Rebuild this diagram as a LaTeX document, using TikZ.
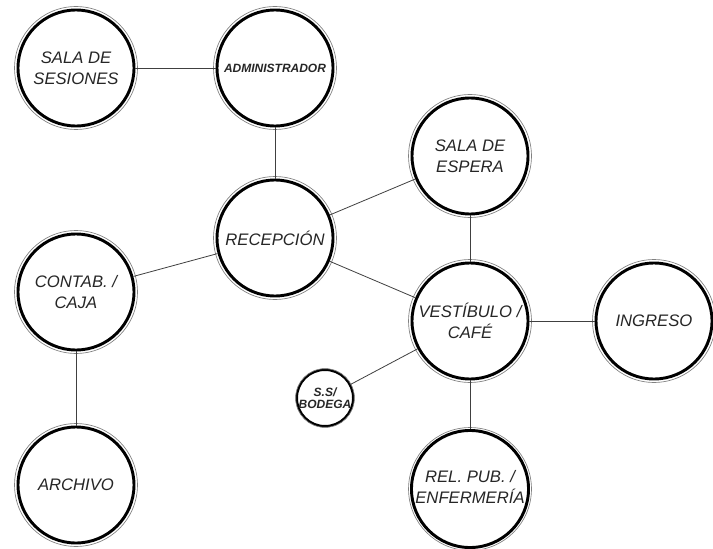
\documentclass[tikz,border=0pt]{standalone}
\usepackage{fontspec}
\setmainfont{Liberation Sans}
\begin{document}
\begin{tikzpicture}[x=0.75pt,y=-0.75pt,
  bubble/.style={circle, draw=black, line width=2.2pt, minimum size=87pt, inner sep=0pt,
    align=center, text=black!85, font=\fontsize{12.5}{15.75}\selectfont\itshape},
  smallbubble/.style={bubble, minimum size=40.5pt, line width=1.8pt,
    font=\fontsize{9}{9}\selectfont\bfseries\itshape},
  ring/.style={draw=black!50, line width=0.5pt},
  link/.style={draw=black!75, line width=0.6pt}]
\useasboundingbox[fill=white] (0,0) rectangle (713,549);

\node[bubble] (ses) at (76,68) {SALA DE\\SESIONES};
\node[bubble, font=\fontsize{9}{10}\selectfont\bfseries\itshape] (adm) at (275,68) {ADMINISTRADOR};
\node[bubble] (rec) at (275,238) {RECEPCIÓN};
\node[bubble] (esp) at (470,156) {SALA DE\\ESPERA};
\node[bubble] (con) at (76,292) {CONTAB. /\\CAJA};
\node[bubble] (ves) at (470,321) {VESTÍBULO /\\CAFÉ};
\node[bubble] (ing) at (654,321) {INGRESO};
\node[smallbubble] (ss) at (325,398) {S.S/\\BODEGA};
\node[bubble] (arc) at (76,485) {ARCHIVO};
\node[bubble] (rel) at (470,489) {\raisebox{7pt}{\begin{tabular}{@{}c@{}}REL. PUB. /\\ENFERMERÍA\end{tabular}}};

\foreach \n in {ses,adm,rec,esp,con,ves,ing,arc,rel}
  \draw[ring] (\n.center) circle[radius=46.1pt];
\draw[ring] (ss.center) circle[radius=22pt];

\draw[link] (ses) -- (adm);
\draw[link] (adm) -- (rec);
\draw[link] (rec) -- (esp);
\draw[link] (rec) -- (con);
\draw[link] (rec) -- (ves);
\draw[link] (esp) -- (ves);
\draw[link] (ves) -- (ing);
\draw[link] (ves) -- (ss);
\draw[link] (ves) -- (rel);
\draw[link] (con) -- (arc);
\end{tikzpicture}
\end{document}
